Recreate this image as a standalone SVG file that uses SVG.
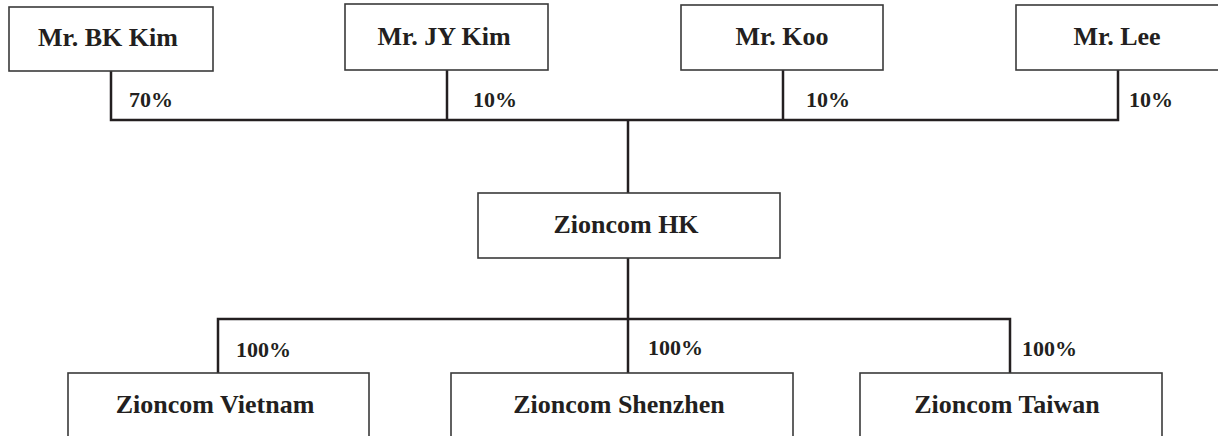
<svg xmlns="http://www.w3.org/2000/svg" width="1218" height="436" viewBox="0 0 1218 436">
<style>
.box{fill:#fff;stroke:#3a3a3a;stroke-width:1.6}
.name{font-family:"Liberation Serif","Times New Roman",serif;font-weight:bold;font-size:26px;fill:#231f20;text-anchor:middle}
.pct{font-family:"Liberation Serif","Times New Roman",serif;font-weight:bold;font-size:22px;fill:#231f20}
.conn{fill:none;stroke:#231f20;stroke-width:2.5}
</style>
<rect width="1218" height="436" fill="#fff"/>
<g id="connectors">
<polyline class="conn" points="111,71 111,120 1118,120 1118,70"/>
<line class="conn" x1="447" y1="70" x2="447" y2="120"/>
<line class="conn" x1="783" y1="70" x2="783" y2="120"/>
<line class="conn" x1="628" y1="120" x2="628" y2="193"/>
<line class="conn" x1="628" y1="258" x2="628" y2="373"/>
<polyline class="conn" points="218,373 218,319 1010,319 1010,373"/>
<text class="pct" x="129" y="107">70%</text>
<text class="pct" x="473" y="107">10%</text>
<text class="pct" x="806" y="107">10%</text>
<text class="pct" x="1129" y="107">10%</text>
<text class="pct" x="236" y="357">100%</text>
<text class="pct" x="648" y="355">100%</text>
<text class="pct" x="1022" y="356">100%</text>
</g>
<g id="bk-kim"><rect class="box" x="9" y="7" width="204" height="64"/><text class="name" x="108" y="46">Mr. BK Kim</text></g>
<g id="jy-kim"><rect class="box" x="345" y="4" width="203" height="66"/><text class="name" x="444" y="45">Mr. JY Kim</text></g>
<g id="koo"><rect class="box" x="681" y="5" width="202" height="65"/><text class="name" x="782" y="45">Mr. Koo</text></g>
<g id="lee"><rect class="box" x="1016" y="5" width="204" height="65"/><text class="name" x="1117" y="45">Mr. Lee</text></g>
<g id="zioncom-hk"><rect class="box" x="478" y="193" width="302" height="65"/><text class="name" x="626" y="233">Zioncom HK</text></g>
<g id="zioncom-vietnam"><rect class="box" x="68" y="373" width="301" height="70"/><text class="name" x="215" y="413">Zioncom Vietnam</text></g>
<g id="zioncom-shenzhen"><rect class="box" x="451" y="373" width="342" height="70"/><text class="name" x="619" y="413">Zioncom Shenzhen</text></g>
<g id="zioncom-taiwan"><rect class="box" x="860" y="373" width="302" height="70"/><text class="name" x="1007" y="413">Zioncom Taiwan</text></g>
</svg>
